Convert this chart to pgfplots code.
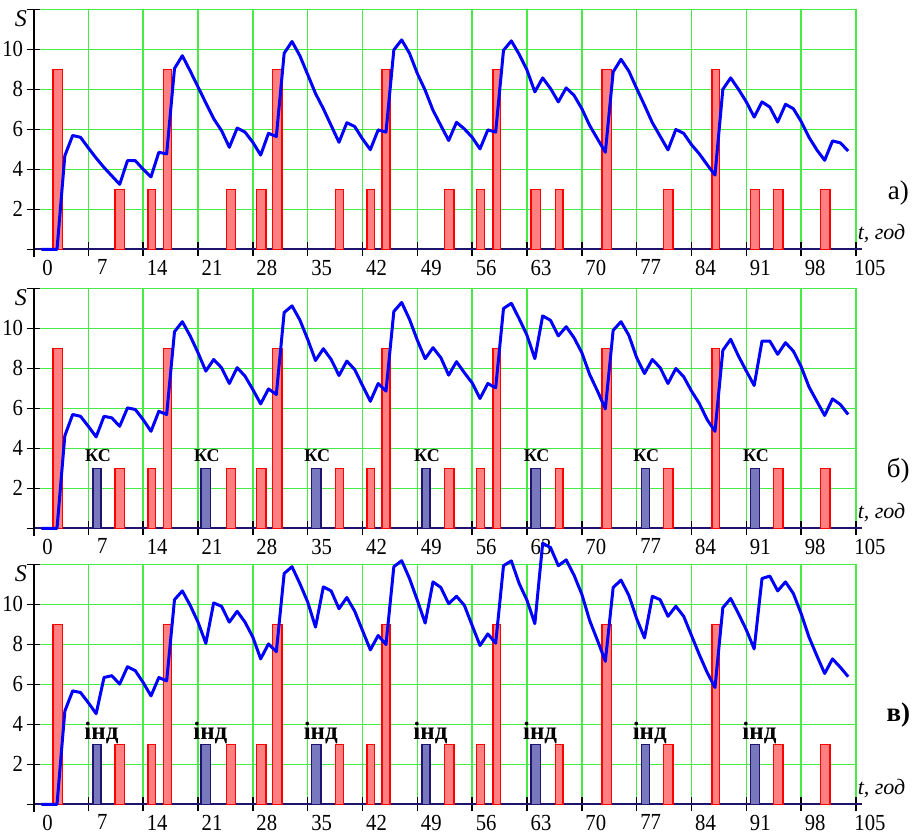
\documentclass[border=0pt]{standalone}
\usepackage{fontspec}
\setmainfont{Liberation Serif}[FakeStretch=0.9]
\newfontfamily\plainserif{Liberation Serif}
\usepackage{pgfplots}
\pgfplotsset{compat=1.18}
\definecolor{gridgreen}{RGB}{70,235,70}
\definecolor{salmonfill}{RGB}{255,128,128}
\definecolor{barblue}{RGB}{120,120,190}
\definecolor{navyline}{RGB}{30,20,110}
\newcommand{\fs}{\fontsize{23}{25}\selectfont}
\newcommand{\fl}{\plainserif\fontsize{27}{29}\selectfont}
\newcommand{\ft}{\plainserif\fontsize{22}{24}\selectfont\itshape}

\pgfplotstableread{
x y
1 0
2 0
3 0
4 4.68
5 5.69
6 5.6
7 5.07
8 4.56
9 4.09
10 3.67
11 3.25
12 4.43
13 4.43
14 4.0
15 3.62
16 4.85
17 4.77
18 9.04
19 9.68
20 8.92
21 8.12
22 7.32
23 6.53
24 5.94
25 5.1
26 6.06
27 5.86
28 5.35
29 4.71
30 5.8
31 5.64
32 9.8
33 10.39
34 9.68
35 8.74
36 7.79
37 7.03
38 6.19
39 5.35
40 6.33
41 6.14
42 5.52
43 4.98
44 5.97
45 5.86
46 9.97
47 10.47
48 9.8
49 8.79
50 7.95
51 6.95
52 6.19
53 5.44
54 6.35
55 6.02
56 5.6
57 5.02
58 5.97
59 5.86
60 9.95
61 10.42
62 9.75
63 8.96
64 7.87
65 8.57
66 8.04
67 7.37
68 8.07
69 7.7
70 7.03
71 6.19
72 5.52
73 4.85
74 8.87
75 9.5
76 8.91
77 8.04
78 7.2
79 6.33
80 5.65
81 4.97
82 5.99
83 5.8
84 5.23
85 4.77
86 4.23
87 3.71
88 8.0
89 8.57
90 8.0
91 7.37
92 6.61
93 7.37
94 7.11
95 6.36
96 7.25
97 7.03
98 6.39
99 5.6
100 4.97
101 4.45
102 5.42
103 5.32
104 4.92
}\lineA

\pgfplotstableread{
x y
1 0
2 0
3 0
4 4.63
5 5.69
6 5.6
7 5.1
8 4.57
9 5.6
10 5.52
11 5.1
12 6.02
13 5.94
14 5.43
15 4.85
16 5.85
17 5.69
18 9.83
19 10.33
20 9.62
21 8.78
22 7.86
23 8.44
24 8.03
25 7.24
26 8.03
27 7.61
28 6.94
29 6.22
30 6.97
31 6.69
32 10.79
33 11.12
34 10.42
35 9.45
36 8.39
37 8.98
38 8.44
39 7.64
40 8.36
41 7.94
42 7.14
43 6.35
44 7.24
45 6.86
46 10.84
47 11.29
48 10.45
49 9.4
50 8.48
51 9.03
52 8.53
53 7.66
54 8.33
55 7.78
56 7.27
57 6.49
58 7.24
59 7.02
60 10.99
61 11.25
62 10.48
63 9.65
64 8.48
65 10.62
66 10.4
67 9.62
68 10.08
69 9.53
70 8.78
71 7.69
72 6.86
73 5.97
74 9.9
75 10.33
76 9.65
77 8.53
78 7.74
79 8.44
80 8.03
81 7.24
82 7.99
83 7.58
84 6.86
85 6.24
86 5.43
87 4.85
88 8.9
89 9.45
90 8.61
91 7.86
92 7.14
93 9.36
94 9.36
95 8.7
96 9.28
97 8.86
98 8.08
99 7.07
100 6.35
101 5.64
102 6.47
103 6.19
104 5.69
}\lineB

\pgfplotstableread{
x y
1 0
2 0
3 0
4 4.66
5 5.67
6 5.59
7 5.08
8 4.53
9 6.34
10 6.43
11 6.01
12 6.88
13 6.68
14 6.09
15 5.42
16 6.34
17 6.17
18 10.23
19 10.67
20 9.95
21 9.11
22 8.05
23 10.07
24 9.9
25 9.11
26 9.65
27 9.11
28 8.36
29 7.27
30 8.02
31 7.63
32 11.54
33 11.88
34 11.04
35 10.12
36 8.86
37 10.87
38 10.67
39 9.78
40 10.34
41 9.66
42 8.69
43 7.72
44 8.44
45 7.99
46 11.88
47 12.18
48 11.29
49 10.2
50 9.06
51 11.12
52 10.84
53 10.03
54 10.4
55 9.95
56 8.94
57 7.94
58 8.52
59 8.05
60 11.93
61 12.17
62 11.04
63 10.2
64 9.03
65 13.05
66 12.84
67 11.93
68 12.22
69 11.46
70 10.5
71 9.19
72 8.19
73 7.15
74 10.84
75 11.21
76 10.45
77 9.28
78 8.32
79 10.4
80 10.23
81 9.4
82 9.9
83 9.4
84 8.44
85 7.48
86 6.59
87 5.84
88 9.83
89 10.29
90 9.53
91 8.72
92 7.77
93 11.29
94 11.41
95 10.67
96 11.12
97 10.54
98 9.53
99 8.36
100 7.43
101 6.54
102 7.27
103 6.85
104 6.38
}\lineC

\pgfplotsset{
  panel/.style={
    scale only axis, width=822.5pt, height=240pt,
    xmin=0, xmax=105, ymin=0, ymax=12,
    clip=false, anchor=south west,
    axis x line*=bottom, axis y line*=left,
    x axis line style={draw=navyline, line width=2pt, -, shorten >=-6pt},
    y axis line style={draw=black, line width=2pt, -, shorten <=-8pt},
    xtick={0,7,...,105}, ytick={0,2,...,12},
    yticklabels={,2,4,6,8,10,},
    tick align=center, major tick length=14pt,
    every tick/.style={black, line width=1.5pt},
    grid=major, major grid style={draw=gridgreen, line width=1.4pt},
    tick label style={font=\fs},
    /pgf/number format/assume math mode=true,
    xticklabel style={xshift=14pt},
  },
  redwide/.style={ybar, bar shift=0pt, bar width=1.2, fill=salmonfill, draw=red, line width=1.4pt},
  rednarrow/.style={ybar, bar shift=0pt, bar width=1.0, fill=salmonfill, draw=red, line width=1.4pt},
  bluebar/.style={ybar, bar shift=0pt, fill=barblue, draw=navyline, line width=1.4pt},
  kslabel/.style={nodes near coords={\textbf{КС}}, nodes near coords align=vertical,
    every node near coord/.style={font=\plainserif\fontsize{18}{19}\selectfont, anchor=base, inner sep=0pt, yshift=6.5pt, xshift=1pt}},
  indlabel/.style={nodes near coords={\textbf{інд}}, nodes near coords align=vertical,
    every node near coord/.style={font=\plainserif\fontsize{25}{27}\selectfont, anchor=base, inner sep=0pt, yshift=5pt, xshift=4.5pt}},
  dataline/.style={blue, line width=3pt, line join=round},
}

\begin{document}
\begin{tikzpicture}
\useasboundingbox (0,0) rectangle (912pt,838pt);

% ---------- panel a ----------
\begin{axis}[panel, at={(33.5pt,588.7pt)}]
\addplot[redwide] coordinates {(3.1,9) (11,3) (25.2,3) (29.1,3) (31.1,9) (53.1,3) (64.1,3) (73.15,9) (81.05,3) (92.1,3) (95.1,3) (101.1,3)};
\addplot[rednarrow] coordinates {(15.1,3) (17.1,9) (39.05,3) (43.05,3) (45,9) (57.05,3) (59.15,9) (67.1,3) (87.1,9)};
\addplot[dataline] table {\lineA};
\node[font=\plainserif\fontsize{24}{26}\selectfont\itshape] at (axis cs:-1.6,11.55) {S};
\node[font=\fl] at (axis cs:110.4,2.83) {а)};
\node[font=\ft, anchor=base west, inner sep=0pt] at (axis cs:105.2,0.5) {t, год};
\end{axis}

% ---------- panel b ----------
\begin{axis}[panel, at={(33.5pt,309.7pt)}]
\addplot[redwide] coordinates {(3.1,9) (11,3) (25.2,3) (29.1,3) (31.1,9) (53.1,3) (73.15,9) (81.05,3) (95.1,3) (101.1,3)};
\addplot[rednarrow] coordinates {(15.1,3) (17.1,9) (39.05,3) (43.05,3) (45,9) (57.05,3) (59.15,9) (67.1,3) (87.1,9)};
\addplot[bluebar, kslabel, bar width=1.2] coordinates {(22,3) (36.1,3) (64.1,3) (92.1,3)};
\addplot[bluebar, kslabel, bar width=1.0] coordinates {(8.1,3) (50.1,3) (78.1,3)};
\addplot[dataline] table {\lineB};
\node[font=\plainserif\fontsize{24}{26}\selectfont\itshape] at (axis cs:-1.6,11.55) {S};
\node[font=\fl] at (axis cs:110.4,2.9) {б)};
\node[font=\ft, anchor=base west, inner sep=0pt] at (axis cs:105.2,0.5) {t, год};
\end{axis}

% ---------- panel c ----------
\begin{axis}[panel, at={(33.5pt,33.7pt)}]
\addplot[redwide] coordinates {(3.1,9) (11,3) (25.2,3) (29.1,3) (31.1,9) (53.1,3) (73.15,9) (81.05,3) (95.1,3) (101.1,3)};
\addplot[rednarrow] coordinates {(15.1,3) (17.1,9) (39.05,3) (43.05,3) (45,9) (57.05,3) (59.15,9) (67.1,3) (87.1,9)};
\addplot[bluebar, indlabel, bar width=1.2] coordinates {(22,3) (36.1,3) (64.1,3) (92.1,3)};
\addplot[bluebar, indlabel, bar width=1.0] coordinates {(8.1,3) (50.1,3) (78.1,3)};
\addplot[dataline] table {\lineC};
\node[font=\plainserif\fontsize{24}{26}\selectfont\itshape] at (axis cs:-1.6,11.55) {S};
\node[font=\fl\bfseries] at (axis cs:110.4,4.45) {в)};
\node[font=\ft, anchor=base west, inner sep=0pt] at (axis cs:105.2,0.5) {t, год};
\end{axis}
\end{tikzpicture}
\end{document}
